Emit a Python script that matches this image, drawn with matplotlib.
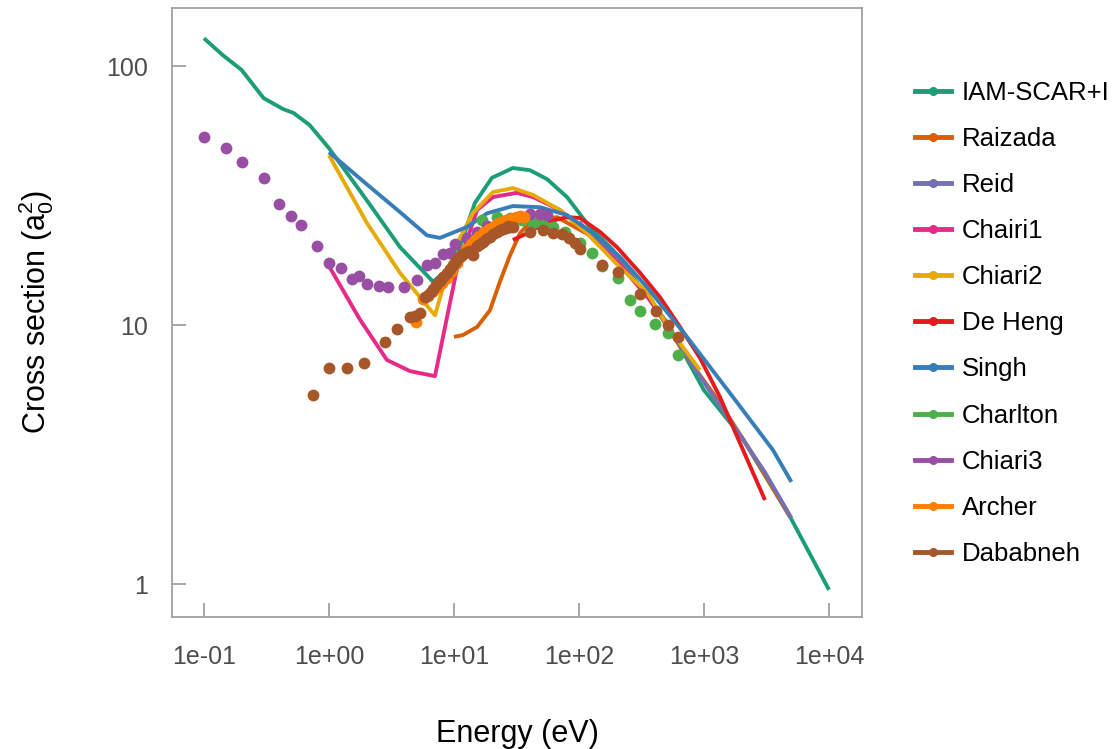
import matplotlib
matplotlib.use("Agg")
import matplotlib.pyplot as plt
from matplotlib.lines import Line2D

plt.rcParams['font.family'] = ['Liberation Sans', 'DejaVu Sans']
plt.rcParams['mathtext.default'] = 'regular'

# ---- data: energy (eV) and cross section (a0^2) ----
iam_e = [0.1, 0.142, 0.2, 0.3, 0.43, 0.52, 0.7, 1.0, 2.0, 3.7, 6.8, 10.0,
         14.7, 20.1, 29.6, 40.6, 55.5, 80.2, 122, 187, 300, 500, 1000, 2000, 5000, 10000]
iam_s = [128, 110, 96.6, 75.2, 68.2, 65.9, 59.2, 48.2, 30.4, 20.0, 14.7, 17.2,
         29.6, 37.0, 40.4, 39.6, 36.6, 31.2, 23.9, 19.5, 14.3, 10.3, 5.6, 3.7, 1.78, 0.95]

raizada_e = [10.0, 11.8, 15.3, 19.4, 23.3, 28.1, 33.7, 40.6, 53.5, 66.7,
             122, 213, 370, 731, 1343, 2333, 4875]
raizada_s = [9.0, 9.15, 9.83, 11.4, 14.7, 18.6, 22.6, 25.0, 25.7, 26.1,
             22.2, 17.1, 12.5, 7.52, 5.0, 3.29, 1.82]

reid_e = [100, 213, 370, 643, 1057, 1941, 3076, 5000]
reid_s = [25.0, 17.5, 12.5, 8.37, 5.77, 3.76, 2.70, 1.80]

chairi1_e = [1.0, 1.77, 2.91, 4.45, 7.05, 8.79, 10.6, 12.7, 15.3, 20.5, 31.9,
             42.9, 70.5, 116, 213, 370, 565]
chairi1_s = [16.9, 10.5, 7.33, 6.64, 6.35, 10.7, 16.6, 21.3, 27.8, 31.2, 32.4,
             31.2, 27.8, 22.6, 17.1, 12.5, 9.4]

chiari2_e = [1.0, 2.01, 3.70, 7.05, 8.17, 10.6, 14.2, 20.5, 29.6, 42.9,
             70.5, 116, 213, 350, 535, 929]
chiari2_s = [45.3, 24.8, 15.9, 10.9, 14.0, 20.7, 27.1, 32.6, 33.8, 31.8,
             27.8, 22.6, 16.7, 13.4, 9.57, 6.70]

deheng_e = [29.6, 38.4, 55.5, 80.2, 102, 147, 201, 308, 445, 643, 929, 1343, 1941, 3076]
deheng_s = [21.3, 22.6, 25.0, 26.1, 25.9, 22.9, 20.0, 15.9, 12.8, 9.83, 7.46, 5.27, 3.50, 2.11]

singh_e = [1.0, 2.0, 3.7, 6.08, 7.73, 12.7, 18.4, 29.6, 48.8, 80, 129, 213, 350, 731, 1706, 3565, 5000]
singh_s = [46.5, 35.0, 27.3, 22.2, 21.7, 23.9, 27.0, 28.8, 28.5, 26.6, 22.6, 18.3, 14.0, 9.0, 5.27, 3.29, 2.48]

charlton_e = [16.7, 22.1, 28.1, 35.0, 42.9, 51.5, 61.9, 77.3, 102, 127, 153,
              205, 256, 308, 406, 515, 619]
charlton_s = [25.4, 26.1, 25.9, 25.4, 24.8, 24.3, 23.9, 22.9, 20.7, 19.0, 16.9,
              15.2, 12.5, 11.3, 10.1, 9.31, 7.66]

chiari3_e = [0.1, 0.15, 0.2, 0.3, 0.4, 0.5, 0.6, 0.8, 1.0, 1.25, 1.53, 1.74, 2.01,
             2.51, 2.96, 3.98, 5.06, 6.08, 7.05, 8.17, 9.29, 10.2, 12.7, 15.3,
             18.4, 23.3, 30.8, 40.6, 48.8, 55.5]
chiari3_s = [53.2, 48.2, 42.6, 37.0, 29.3, 26.4, 24.3, 20.2, 17.3, 16.6, 15.1, 15.5, 14.4,
             14.1, 14.0, 14.0, 14.9, 17.1, 17.3, 18.8, 19.0, 20.5, 21.7, 22.9,
             24.1, 24.8, 25.9, 26.8, 26.8, 26.6]

archer_e = [5.0, 5.7, 6.2, 6.8, 7.4, 8.0, 8.8, 9.6, 10.5, 11.5, 12.5, 13.6, 14.8,
            16.0, 17.5, 19.0, 20.5, 22.0, 24.0, 26.0, 28.0, 30.0, 32.0, 34.0, 36.0]
archer_s = [10.3, 12.6, 13.0, 13.5, 14.0, 14.5, 15.2, 16.2, 17.3, 18.6, 19.6, 20.5, 21.3,
            22.0, 22.8, 23.4, 24.0, 24.5, 25.0, 25.4, 25.7, 26.0, 26.2, 26.3, 26.2]

dababneh_e = [0.745, 1.0, 1.39, 1.91, 2.81, 3.50, 4.45, 4.88, 5.35, 5.86, 6.2, 6.5,
              6.8, 7.2, 7.7, 8.2, 8.8, 9.3, 9.8, 10.4, 11.2, 11.9, 12.7, 13.4, 14.2,
              15.3, 16.2, 17.1, 18.2, 19.4, 20.7, 22.1, 23.4, 24.7, 26.0, 27.0, 28.3,
              29.6, 40.6, 51.5, 61.9, 73.1, 83.2, 92.9, 102, 153, 205, 308, 413, 515, 619]
dababneh_s = [5.37, 6.82, 6.82, 7.13, 8.59, 9.66, 10.7, 10.8, 11.1, 12.8, 13.1, 13.4,
              13.8, 14.3, 14.8, 15.3, 15.9, 16.5, 17.1, 17.7, 18.3, 18.8, 19.1, 19.3, 18.6,
              20.2, 20.5, 20.9, 21.4, 21.9, 22.4, 22.9, 23.2, 23.5, 23.7, 24.1, 24.0,
              23.9, 22.9, 23.3, 22.6, 22.4, 21.7, 20.7, 19.6, 17.1, 16.0, 13.2, 11.3, 10.0, 9.0]

line_series = [
    ("IAM-SCAR+I", iam_e, iam_s, "#1b9e77"),
    ("Raizada", raizada_e, raizada_s, "#d95f02"),
    ("Reid", reid_e, reid_s, "#7570b3"),
    ("Chairi1", chairi1_e, chairi1_s, "#e7298a"),
    ("Chiari2", chiari2_e, chiari2_s, "#e6ab02"),
    ("De Heng", deheng_e, deheng_s, "#e41a1c"),
    ("Singh", singh_e, singh_s, "#377eb8"),
]
point_series = [
    ("Charlton", charlton_e, charlton_s, "#4daf4a"),
    ("Chiari3", chiari3_e, chiari3_s, "#984ea3"),
    ("Archer", archer_e, archer_s, "#ff7f00"),
    ("Dababneh", dababneh_e, dababneh_s, "#a65628"),
]

x_ticks = [1e-1, 1e0, 1e1, 1e2, 1e3, 1e4]
x_tick_labels = ["1e-01", "1e+00", "1e+01", "1e+02", "1e+03", "1e+04"]
y_ticks = [1, 10, 100]
y_tick_labels = ["1", "10", "100"]

fig = plt.figure(figsize=(11.13, 7.49), dpi=100)
ax = fig.add_axes([0.1545, 0.1762, 0.62, 0.8131])

for name, e, s, c in line_series:
    ax.plot(e, s, color=c, lw=2.8, solid_capstyle='butt', zorder=2)
for name, e, s, c in point_series:
    ax.plot(e, s, linestyle='none', marker='o', ms=8.5, color=c,
            markeredgewidth=0, zorder=3)

ax.set_xscale('log')
ax.set_yscale('log')
ax.set_xlim(0.0555, 18365)
ax.set_ylim(0.746, 167.5)
ax.set_xticks(x_ticks)
ax.set_xticklabels(x_tick_labels)
ax.set_yticks(y_ticks)
ax.set_yticklabels(y_tick_labels)
ax.minorticks_off()

grey = "#a0a0a0"
for sp in ax.spines.values():
    sp.set_color(grey)
    sp.set_linewidth(1.3)
ax.tick_params(axis='both', direction='in', length=10, width=1.3, color=grey,
               labelsize=18, labelcolor="#4d4d4d")
ax.tick_params(axis='x', pad=20)
ax.tick_params(axis='y', pad=17)

ax.set_xlabel("Energy (eV)", fontsize=22, labelpad=36.5)
ax.set_ylabel("Cross section (a$_0^2$)", fontsize=22, labelpad=36)

handles = [Line2D([0], [0], color=c, lw=3.5, marker='o', ms=6.5, markeredgewidth=0)
           for _, _, _, c in line_series + point_series]
labels = [n for n, _, _, _ in line_series + point_series]
fig.legend(handles, labels, loc='upper left', bbox_to_anchor=(0.8225, 0.892),
           frameon=False, fontsize=18.5, labelspacing=0.86, handlelength=1.4,
           handletextpad=0.4, borderpad=0, borderaxespad=0)

fig.savefig("out.png", dpi=100)
